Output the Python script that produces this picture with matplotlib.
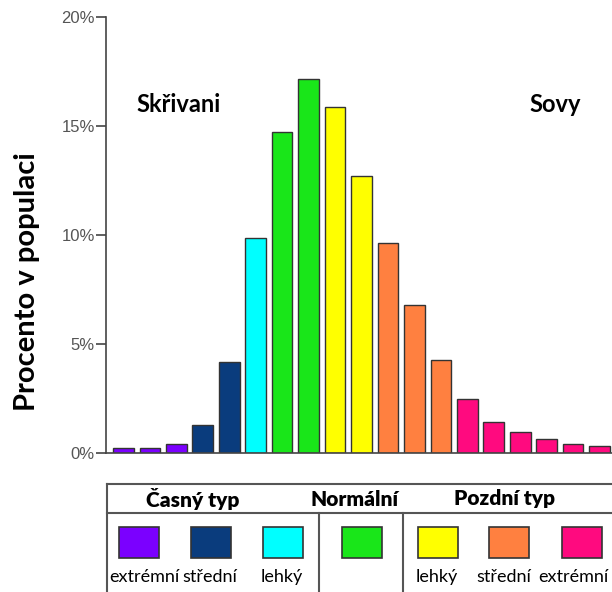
import matplotlib
matplotlib.use('Agg')
import matplotlib.pyplot as plt
from matplotlib.patches import Rectangle

# --- DATA ---
bar_values = [0.24, 0.22, 0.4, 1.28, 4.19, 9.85, 14.74, 17.14, 15.86, 12.7,
              9.65, 6.77, 4.27, 2.48, 1.44, 0.95, 0.63, 0.4, 0.32]
# which chronotype (index into type_colors) each bar belongs to
bar_type = [0, 0, 0, 1, 1, 2, 3, 3, 4, 4, 5, 5, 5, 6, 6, 6, 6, 6, 6]
type_colors = ['#7B00FF', '#0A3C7D', '#00FFFF', '#19E619', '#FFFF00', '#FF8040', '#FF0A7F']
type_labels = ['extrémní', 'střední', 'lehký', '', 'lehký', 'střední', 'extrémní']
group_names = ['Časný typ', 'Normální', 'Pozdní typ']
y_ticks = [0, 5, 10, 15, 20]
y_ticklabels = ['0%', '5%', '10%', '15%', '20%']
ylabel = 'Procento v populaci'
left_note = 'Skřivani'
right_note = 'Sovy'

FONT = ['Lato', 'DejaVu Sans']
EDGE = '#333333'
W, H = 612, 592

fig = plt.figure(figsize=(W / 100, H / 100), dpi=100)

# main bar axes, placed in pixel terms
ax = fig.add_axes([106 / W, (H - 453) / H, 520 / W, 436 / H])
xs = range(len(bar_values))
ax.bar(xs, bar_values, width=0.78, color=[type_colors[t] for t in bar_type],
       edgecolor=EDGE, linewidth=1.0)
ax.set_xlim(-0.66, 19.0)
ax.set_ylim(0, 20)
ax.set_yticks(y_ticks)
ax.set_yticklabels(y_ticklabels, family=['Liberation Sans'], fontsize=12, color='#555555')
ax.tick_params(axis='y', length=7, width=1.2, color='#444444', pad=1)
ax.set_xticks([])
for s in ['top', 'right']:
    ax.spines[s].set_visible(False)
ax.spines['left'].set_color('#444444')
ax.spines['bottom'].set_color('#444444')
ax.spines['left'].set_linewidth(1.2)
ax.spines['bottom'].set_linewidth(1.2)

ax.text(2.1, 16.0, left_note, family=FONT, fontweight='bold', fontsize=17, ha='center', va='center')
ax.text(16.34, 16.0, right_note, family=FONT, fontweight='bold', fontsize=17, ha='center', va='center')

fig.text(27 / W, (H - 282) / H, ylabel, family=FONT, fontweight='bold', fontsize=21,
         rotation=90, ha='center', va='center')

# legend table drawn in pixel coordinates
lg = fig.add_axes([0, 0, 1, 1])
lg.set_xlim(0, W)
lg.set_ylim(H, 0)
lg.axis('off')

line_kw = dict(color='#555555', linewidth=1.5)
lg.plot([107, W], [484, 484], **line_kw)
lg.plot([107, W], [513, 513], **line_kw)
lg.plot([107, 107], [484, H], **line_kw)
lg.plot([319, 319], [513, H], **line_kw)
lg.plot([403, 403], [513, H], **line_kw)

group_x = [193, 354, 504]
for gx, name in zip(group_x, group_names):
    lg.text(gx, 499, name, family=FONT, fontweight='heavy', fontsize=15, ha='center', va='center')

swatch_x = [138.5, 210.5, 282.5, 361.5, 437.5, 509, 582]
label_x = [144, 210, 282, 361.5, 437, 504, 573]
for sx, lx, col, lab in zip(swatch_x, label_x, type_colors, type_labels):
    lg.add_patch(Rectangle((sx - 20, 527), 40, 31, facecolor=col, edgecolor=EDGE, linewidth=1.2))
    lg.text(lx, 577, lab, family=FONT, fontsize=13, ha='center', va='center')

fig.savefig('out.png', dpi=100)
